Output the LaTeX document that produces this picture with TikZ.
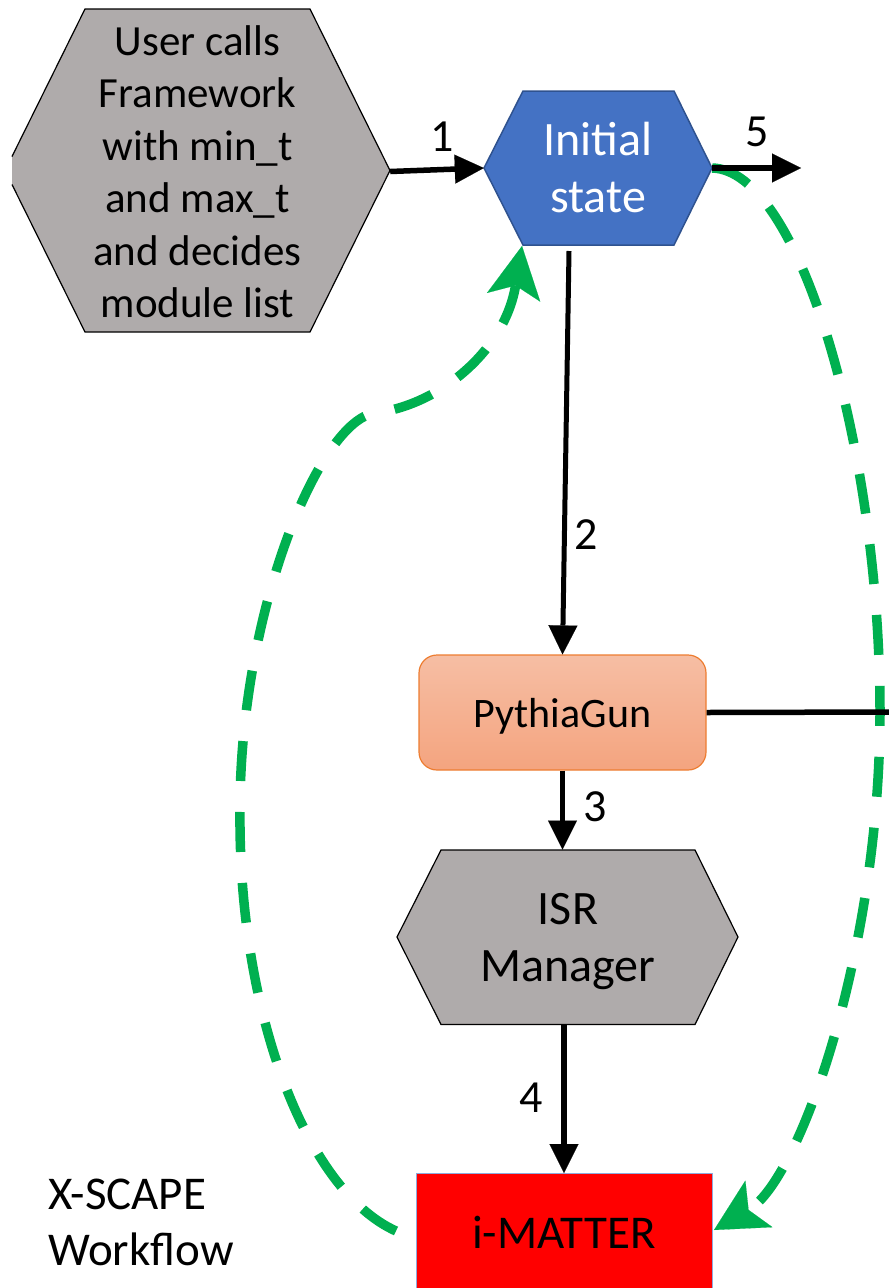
\documentclass[tikz,border=0pt]{standalone}
\usepackage{fontspec}
\setmainfont{Carlito}
\usetikzlibrary{arrows.meta,calc}
\definecolor{hexgray}{HTML}{AFABAB}
\definecolor{initblue}{HTML}{4472C4}
\definecolor{initborder}{HTML}{2F528F}
\definecolor{pytop}{HTML}{F6BEA4}
\definecolor{pybot}{HTML}{F4A47F}
\definecolor{pyborder}{HTML}{ED7D31}
\definecolor{imborder}{HTML}{8FAADC}
\definecolor{loopgreen}{HTML}{00B050}
\tikzset{
  flow/.style={line width=5.5pt, -{Triangle[length=29pt,width=29pt,line width'=0.1pt]}},
  loopline/.style={line width=9.5pt, loopgreen, dash pattern=on 40pt off 31pt,
    -{Stealth[length=52pt,width=54pt,inset=12pt,line width'=0.1pt]}},
  num/.style={font=\fontsize{46}{50}\selectfont, inner sep=0pt},
  box/.style={inner sep=0pt, align=center}
}
\begin{document}
\begin{tikzpicture}[x=1pt,y=-1pt]
\useasboundingbox (0,0) rectangle (889,1288);

% user hexagon (cropped on the left)
\fill[hexgray] (12,156.5) -- (85,9) -- (310,9) -- (390,170.5) -- (310,332) -- (85,332) -- (12,184.5) -- cycle;
\draw[line width=1.2pt] (12,156.5) -- (85,9) -- (310,9) -- (390,170.5) -- (310,332) -- (85,332) -- (12,184.5);
\node[box, minimum width=385pt, minimum height=323pt, font=\fontsize{43}{52.5}\selectfont] (user) at (197.5,171.5)
  {User calls\\Framework\\with min\_t\\and max\_t\\and decides\\module list};

% initial state hexagon
\filldraw[fill=initblue, draw=initborder, line width=1.5pt] (484,168) -- (523,91) -- (674,91) -- (712,168) -- (674,245) -- (523,245) -- cycle;
\node[box, minimum width=228pt, minimum height=154pt, text=white, font=\fontsize{48}{57}\selectfont] (init) at (598,168) {Initial\\state};

% PythiaGun
\node[box, draw=pyborder, line width=1.2pt, top color=pytop, bottom color=pybot, rounded corners=18pt,
  minimum width=287pt, minimum height=115pt, text height=35pt, text depth=6pt, font=\fontsize{42}{50}\selectfont]
  (pythia) at (562.5,712.5) {PythiaGun};

% ISR Manager hexagon
\filldraw[fill=hexgray, draw=black, line width=1.2pt] (397,937) -- (441,850) -- (695,850) -- (738,937) -- (695,1024.5) -- (441,1024.5) -- cycle;
\node[box, minimum width=341pt, minimum height=174.5pt, font=\fontsize{48}{57}\selectfont] (isr) at (567.5,937) {};
\node[box, font=\fontsize{48}{57}\selectfont] (isrtext) at (568,942) {ISR\\Manager};

% i-MATTER
\node[box, fill=red, draw=imborder, line width=1pt, minimum width=296pt, minimum height=130pt, anchor=north,
  text height=30pt, text depth=10pt, font=\fontsize{47}{56}\selectfont] (imatter) at (564,1173) {i-MATTER};

% title
\node[box, align=left, anchor=west, font=\fontsize{47}{56}\selectfont] (title) at (48,1222) {X-SCAPE\\Workflow};

% green feedback loops
\coordinate (lstart) at (396,1231);
\coordinate (lmid1) at (240,810);
\coordinate (lmid2) at (375,413);
\coordinate (ltip) at (522,246);
\draw[loopline] (lstart) .. controls (305,1190) and (238,1010) .. (lmid1)
  .. controls (240,610) and (320,420) .. (lmid2)
  .. controls (440,405) and (505,350) .. (ltip);
\coordinate (rmid) at (880,712);
\coordinate (rtip) at (714,1230);
\draw[loopline] (init.east) .. controls (800,170) and (880,450) .. (rmid)
  .. controls (880,950) and (800,1180) .. (rtip);

% black flow arrows
\draw[flow] (user.east) -- (init.west);
\node[num] (n1) at (442,137) {1};
\coordinate (out5) at (801,168);
\draw[flow] (init.east) -- (out5);
\node[num] (n5) at (757,132) {5};
\coordinate (a2) at (569,251);
\draw[flow, line width=5pt] (a2) -- (pythia.north);
\node[num] (n2) at (586,535) {2};
\draw[flow] (pythia.south) -- (pythia.south |- isr.north);
\node[num] (n3) at (595,807) {3};
\draw[flow] (isr.south -| imatter.north) -- (imatter.north);
\node[num] (n4) at (531,1098) {4};
\coordinate (edge) at (895,712);
\draw[line width=5.5pt] (pythia.east) -- (edge);
\end{tikzpicture}
\end{document}
